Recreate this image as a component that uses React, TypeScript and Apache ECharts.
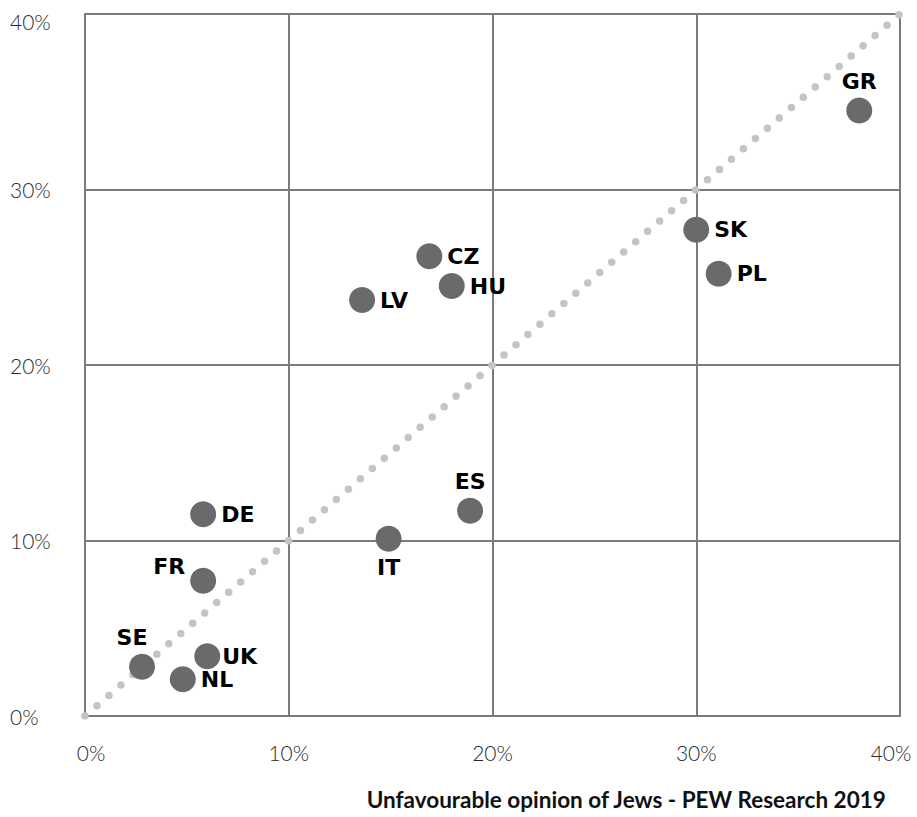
import React, { useEffect, useRef } from "react";
import * as echarts from "echarts";

const countries = ["GR", "SK", "PL", "CZ", "HU", "LV", "ES", "IT", "DE", "FR", "SE", "UK", "NL"];
const xValues = [38.0, 30.0, 31.1, 16.9, 18.0, 13.6, 18.9, 14.9, 5.8, 5.8, 2.8, 6.0, 4.8];
const yValues = [34.5, 27.7, 25.2, 26.2, 24.5, 23.7, 11.7, 10.1, 11.5, 7.7, 2.8, 3.4, 2.1];
const xTicks = [0, 10, 20, 30, 40];
const yTicks = [0, 10, 20, 30, 40];
const diagonal = [[0, 0], [40, 40]];
const axisTitle = "Unfavourable opinion of Jews - PEW Research 2019";

export default function App() {
  const ref = useRef<HTMLDivElement>(null);
  useEffect(() => {
    if (!ref.current) return;
    const chart = echarts.init(ref.current, undefined, { renderer: "svg" });
    const gridColor = "#7b7b7b";
    const tickFont = { fontFamily: "Lato", fontWeight: 300, fontSize: 21, color: "#2a2a2a" };
    const xMin = xTicks[0];
    const xMax = xTicks[xTicks.length - 1];
    const yMax = yTicks[yTicks.length - 1];
    const labelStyle: Record<string, any> = {
      GR: { position: "top" },
      ES: { position: "top" },
      IT: { position: "bottom" },
      FR: { position: "left", offset: [0, -14] },
      SE: { position: "top", offset: [-10, 0] },
      UK: { position: "right", distance: 2 },
    };
    chart.setOption({
      animation: false,
      grid: { left: 85, right: 17, top: 14, bottom: 101, outerBoundsMode: "none", containLabel: false },
      xAxis: {
        type: "value",
        min: xMin,
        max: xMax,
        interval: 10,
        axisLine: { show: true, lineStyle: { color: gridColor, width: 2 } },
        axisTick: { show: false },
        splitLine: { show: true, lineStyle: { color: gridColor, width: 2 } },
        axisLabel: {
          ...tickFont,
          margin: 26,
          formatter: (v: number) =>
            v === xMin ? "{lo|" + v + "%}" : v === xMax ? "{hi|" + v + "%}" : v + "%",
          rich: {
            lo: { ...tickFont, padding: [0, 0, 0, 12] },
            hi: { ...tickFont, padding: [0, 18, 0, 0] },
          },
          alignMinLabel: "center",
          alignMaxLabel: "center",
        },
      },
      yAxis: {
        type: "value",
        min: yTicks[0],
        max: yMax,
        interval: 10,
        axisLine: { show: true, lineStyle: { color: gridColor, width: 2 } },
        axisTick: { show: false },
        splitLine: { show: true, lineStyle: { color: gridColor, width: 2 } },
        axisLabel: {
          ...tickFont,
          margin: 75,
          align: "left",
          formatter: (v: number) => (v === yMax ? "{hi|" + v + "%}" : v + "%"),
          rich: { hi: { ...tickFont, padding: [14, 0, 0, 0] } },
        },
      },
      graphic: [
        {
          type: "text",
          right: 30,
          top: 788,
          style: {
            text: axisTitle,
            fontFamily: "Lato",
            fontWeight: "bold",
            fontSize: 22.5,
            fill: "#111",
          },
        },
      ],
      series: [
        {
          type: "line",
          data: diagonal,
          symbol: "none",
          silent: true,
          z: 1,
          lineStyle: { color: "#c4c4c4", width: 7.5, type: [0, 15.8], cap: "round" },
        },
        {
          type: "scatter",
          z: 3,
          symbolSize: 26,
          itemStyle: { color: "#6a6a6d", opacity: 1 },
          data: countries.map((c, i) => ({
            name: c,
            value: [xValues[i], yValues[i]],
            label: labelStyle[c] || { position: "right" },
          })),
          label: {
            show: true,
            formatter: (p: any) => p.name,
            fontFamily: "DejaVu Sans",
            fontWeight: "bold",
            fontSize: 22,
            color: "#000",
            distance: 5,
          },
        },
      ],
    });
    return () => chart.dispose();
  }, []);
  return <div ref={ref} style={{ width: 917, height: 817, position: "absolute", left: 0, top: 0 }} />;
}
